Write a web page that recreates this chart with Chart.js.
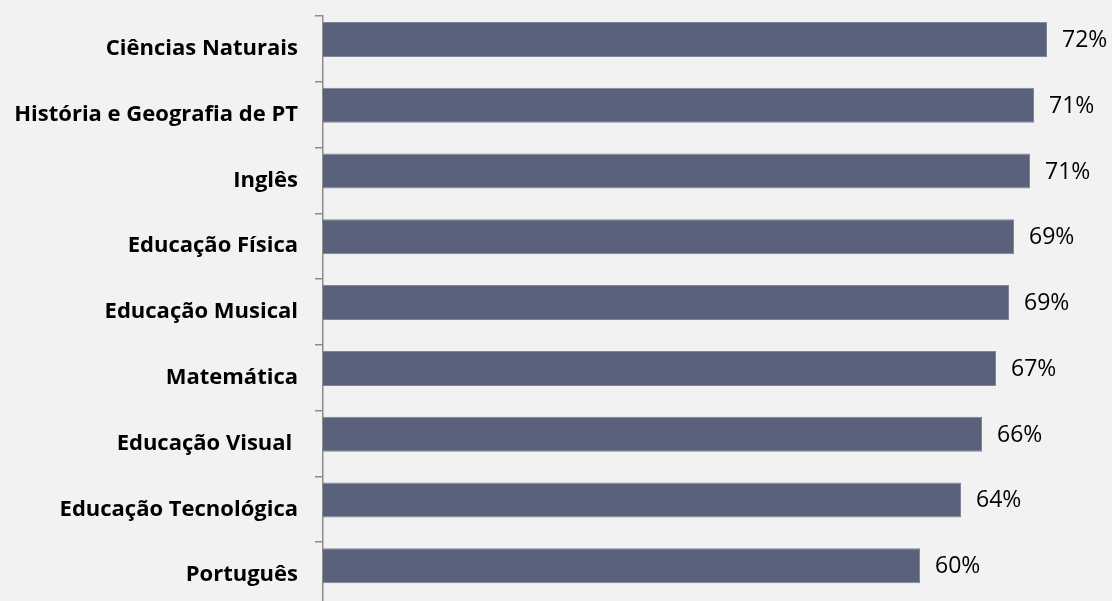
<!DOCTYPE html>
<html>
<head>
<meta charset="utf-8">
<script src="https://cdn.jsdelivr.net/npm/chart.js@4/dist/chart.umd.min.js"></script>
<style>
  html, body { margin: 0; padding: 0; background: #f2f2f2; overflow: hidden; width: 1112px; height: 601px; }
  #wrap { position: absolute; left: 0; top: 0; width: 1123px; height: 608px; }
</style>
</head>
<body>
<div id="wrap"><canvas id="c" width="1123" height="608"></canvas></div>
<script>
const categories = [
  "Ciências Naturais",
  "História e Geografia de PT",
  "Inglês",
  "Educação Física",
  "Educação Musical",
  "Matemática",
  "Educação Visual ",
  "Educação Tecnológica",
  "Português"
];
const values = [0.724, 0.711, 0.707, 0.691, 0.686, 0.673, 0.659, 0.638, 0.597];
const emptySeries = [null, null, null, null, null, null, null, null, null];

const LABEL_FONT = "'Open Sans'";

const valueLabels = {
  id: "valueLabels",
  afterDatasetsDraw(chart) {
    const ctx = chart.ctx;
    const meta = chart.getDatasetMeta(0);
    ctx.save();
    ctx.font = "23px " + LABEL_FONT;
    ctx.fillStyle = "#000000";
    ctx.textAlign = "left";
    ctx.textBaseline = "middle";
    meta.data.forEach((el, i) => {
      const v = values[i];
      ctx.fillText(Math.round(v * 100) + "%", el.x + 15, el.y + 1);
    });
    ctx.restore();
  }
};

new Chart(document.getElementById("c"), {
  type: "bar",
  data: {
    labels: categories,
    datasets: [
      {
        data: values,
        backgroundColor: "#59627a",
        borderColor: "#7d869b",
        borderWidth: 1,
        categoryPercentage: 0.571,
        barPercentage: 1.864
      },
      {
        data: emptySeries,
        backgroundColor: "#59627a",
        categoryPercentage: 0.571,
        barPercentage: 1.864
      }
    ]
  },
  options: {
    indexAxis: "y",
    responsive: false,
    animation: false,
    layout: { padding: { top: 16, left: 0, right: 0, bottom: 0 } },
    plugins: { legend: { display: false }, tooltip: { enabled: false } },
    scales: {
      x: { display: false, min: 0, max: 0.8 },
      y: {
        offset: true,
        grid: { offset: true, drawOnChartArea: false, drawTicks: true, tickLength: 8, color: "#8c8c8c", lineWidth: 1.5 },
        border: { display: true, color: "#8c8c8c", width: 1.5 },
        ticks: { padding: 17, color: "#000000", font: { family: "'Open Sans'", size: 22, weight: "bold" } },
        afterFit(scale) {
          scale.width = 323;
          scale.paddingTop = 0;
          scale.paddingBottom = 0;
        }
      }
    }
  },
  plugins: [valueLabels]
});
</script>
</body>
</html>
